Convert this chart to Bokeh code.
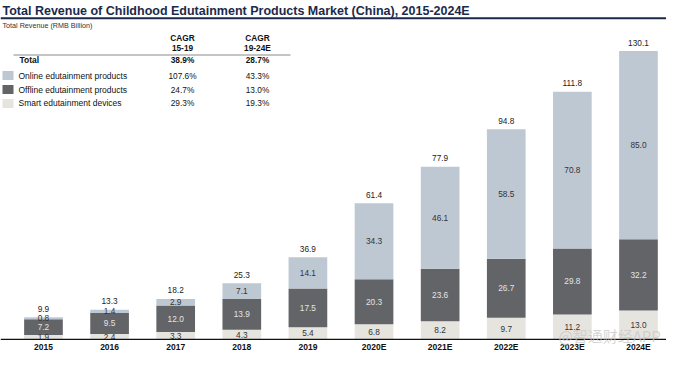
from bokeh.plotting import figure
from bokeh.models import ColumnDataSource, Range1d, Label, BoxAnnotation, Span
from bokeh.core.properties import value
from bokeh.embed import file_html
from bokeh.resources import INLINE

# ---------------- data ----------------
years = ["2015", "2016", "2017", "2018", "2019", "2020E", "2021E", "2022E", "2023E", "2024E"]
smart = [1.9, 2.4, 3.3, 4.3, 5.4, 6.8, 8.2, 9.7, 11.2, 13.0]
offline = [7.2, 9.5, 12.0, 13.9, 17.5, 20.3, 23.6, 26.7, 29.8, 32.2]
online = [0.8, 1.4, 2.9, 7.1, 14.1, 34.3, 46.1, 58.5, 70.8, 85.0]
totals = [9.9, 13.3, 18.2, 25.3, 36.9, 61.4, 77.9, 94.8, 111.8, 130.1]

row_names = ["Total", "Online edutainment products", "Offline edutainment products", "Smart edutainment devices"]
cagr_15_19 = ["38.9%", "107.6%", "24.7%", "29.3%"]
cagr_19_24 = ["28.7%", "43.3%", "13.0%", "19.3%"]
col_heads = [("CAGR", "15-19"), ("CAGR", "19-24E")]

title_text = "Total Revenue of Childhood Edutainment Products Market (China), 2015-2024E"
subtitle_text = "Total Revenue (RMB Billion)"
watermark = "@智通财经APP"

# ---------------- style ----------------
C_ONLINE = "#bec8d2"
C_OFFLINE = "#636468"
C_SMART = "#e6e4df"
NAVY = "#1b2a4a"
FONT = "Liberation Sans"

W, H = 666, 354
VS = 0.957  # vertical scale from reference pixels

def sy(yref):
    return H - yref * VS

x_idx = list(range(len(years)))

src = ColumnDataSource(dict(
    x=x_idx, year=years, smart=smart, offline=offline, online=online, total=totals,
    zero=[0] * len(years),
    smart_mid=[s / 2 for s in smart],
    off_mid=[s + o / 2 for s, o in zip(smart, offline)],
    on_mid=[s + o + n / 2 for s, o, n in zip(smart, offline, online)],
    smart_lbl=["%.1f" % v for v in smart],
    off_lbl=["%.1f" % v for v in offline],
    on_lbl=["%.1f" % v for v in online],
    tot_lbl=["%.1f" % v for v in totals],
))

p = figure(width=W, height=H, output_backend="svg", toolbar_location=None,
           x_range=Range1d(-0.650, 9.424), y_range=Range1d(-6.87, 153.0),
           x_axis_location=None, y_axis_location=None, min_border=0)
p.outline_line_color = None
p.grid.visible = False
p.background_fill_color = "white"
p.border_fill_color = "white"

p.vbar_stack(["smart", "offline", "online"], x="x", width=0.585, source=src,
             color=[C_SMART, C_OFFLINE, C_ONLINE], line_color=None)

# baseline (axis line) and category labels
p.add_layout(Span(location=0, dimension="width", line_color="#111111", line_width=1.3))
p.text(x="x", y="zero", text="year", source=src, text_font=value(FONT),
       text_font_style="bold", text_font_size=value("8.5px"), text_color="#111111",
       text_align="center", text_baseline="middle", y_offset=8)

common = dict(text_font=value(FONT), text_font_size=value("8.3px"), text_align="center",
              text_baseline="middle", source=src)
p.text(x="x", y="smart_mid", text="smart_lbl", text_color="#333333", **common)
p.text(x="x", y="off_mid", text="off_lbl", text_color="#e4e4e4", **common)
p.text(x="x", y="on_mid", text="on_lbl", text_color="#333333", **common)
p.text(x="x", y="total", text="tot_lbl", text_color="#222222", y_offset=-8.6, **common)

# title and rule
p.add_layout(Label(x=2, y=sy(10.5), x_units="screen", y_units="screen", text=title_text,
                   text_font=FONT, text_font_style="bold", text_font_size="12.5px",
                   text_color=NAVY, text_baseline="middle"))
p.add_layout(BoxAnnotation(top=sy(17.6), bottom=sy(19.6), top_units="screen", bottom_units="screen",
                           fill_color=NAVY, fill_alpha=1, line_color=None))
p.add_layout(Label(x=2, y=sy(26), x_units="screen", y_units="screen", text=subtitle_text,
                   text_font=FONT, text_font_size="7.2px", text_color="#333333",
                   text_baseline="middle"))

# table
col_x = [182, 257]
for cx, (h1, h2) in zip(col_x, col_heads):
    for txt, yy in ((h1, 39), (h2, 49.5)):
        p.add_layout(Label(x=cx, y=sy(yy), x_units="screen", y_units="screen", text=txt,
                           text_font=FONT, text_font_style="bold", text_font_size="8.3px",
                           text_color="#111111", text_align="center", text_baseline="middle"))
p.add_layout(BoxAnnotation(left=13, right=290, top=sy(56.5), bottom=sy(57.5),
                           left_units="screen", right_units="screen",
                           top_units="screen", bottom_units="screen",
                           fill_color="#8a8a8a", fill_alpha=1, line_color=None))

row_y = [62.5, 78.5, 93, 107.5]
sq_colors = [None, C_ONLINE, C_OFFLINE, C_SMART]
for i, name in enumerate(row_names):
    yy = sy(row_y[i])
    bold = "bold" if i == 0 else "normal"
    p.add_layout(Label(x=19 if i == 0 else 18, y=yy, x_units="screen", y_units="screen", text=name,
                       text_font=FONT, text_font_style=bold, text_font_size="8.5px",
                       text_color="#111111", text_baseline="middle"))
    for cx, vals in zip(col_x, (cagr_15_19, cagr_19_24)):
        p.add_layout(Label(x=cx, y=yy, x_units="screen", y_units="screen", text=vals[i],
                           text_font=FONT, text_font_style=bold, text_font_size="8.3px",
                           text_color="#111111", text_align="center", text_baseline="middle"))
    if sq_colors[i]:
        p.add_layout(BoxAnnotation(left=2, right=13, top=yy + 4.5, bottom=yy - 4.5,
                                   left_units="screen", right_units="screen",
                                   top_units="screen", bottom_units="screen",
                                   fill_color=sq_colors[i], fill_alpha=1, line_color=None))

# watermark
p.add_layout(Label(x=558, y=sy(350), x_units="screen", y_units="screen", text=watermark,
                   text_font="Noto Sans CJK SC", text_font_size="15px",
                   text_color="#c8c8c8", text_alpha=0.75, text_baseline="middle"))

open("out.html", "w").write(file_html(p, INLINE))
